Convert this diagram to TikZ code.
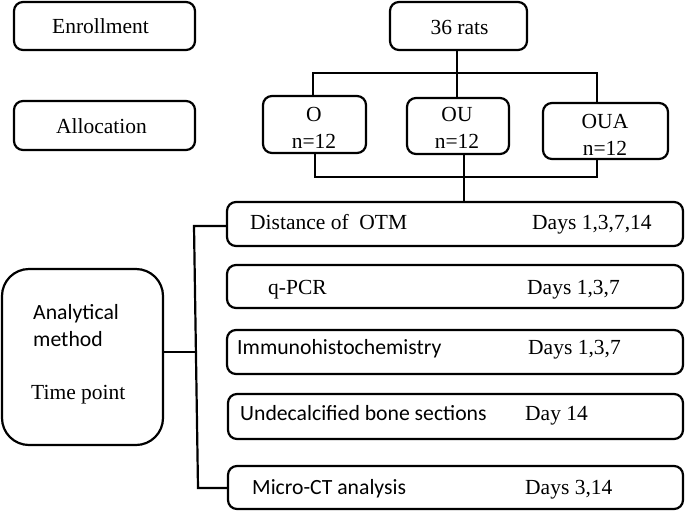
\documentclass[tikz,border=0pt]{standalone}
\usepackage{fontspec}
\setmainfont{Liberation Serif}
\newfontfamily\carl{Carlito}
\begin{document}
\begin{tikzpicture}[x=1pt,y=-1pt,
  box/.style={draw, line width=2.2pt, rounded corners=9pt, inner sep=0pt},
  conn/.style={line width=2.2pt},
  lbl/.style={inner sep=0pt, font=\fontsize{21.5}{27}\selectfont},
  slbl/.style={inner sep=0pt, font=\carl\fontsize{21.7}{27}\selectfont}]
\useasboundingbox (0,0) rectangle (685,512);
% boxes
\node[box, minimum width=181pt, minimum height=48pt] (enr) at (104.5,26) {};
\node[box, minimum width=181pt, minimum height=49pt] (alc) at (104.5,125.5) {};
\node[box, minimum width=137pt, minimum height=48pt] (rats) at (458.5,26) {};
\node[box, minimum width=103pt, minimum height=57pt] (O) at (314.5,124.5) {};
\node[box, minimum width=102pt, minimum height=56pt] (OU) at (458,126) {};
\node[box, minimum width=125pt, minimum height=56pt] (OUA) at (605.5,131) {};
\node[box, rounded corners=27pt, minimum width=161pt, minimum height=176pt] (anal) at (82.5,357) {};
\node[box, minimum width=456pt, minimum height=44pt] (dist) at (455,224) {};
\node[box, minimum width=456pt, minimum height=43pt] (pcr) at (455,286.5) {};
\node[box, minimum width=456pt, minimum height=44pt] (imm) at (455,352) {};
\node[box, minimum width=455pt, minimum height=45pt] (und) at (455.5,416.5) {};
\node[box, minimum width=455pt, minimum height=43pt] (mic) at (455.5,487.5) {};
% texts
\node[lbl] (tenr) at (100.5,26) {Enrollment};
\node[lbl] (talc) at (101.5,126) {Allocation};
\node[lbl] (trats) at (459.5,27) {36 rats};
\node[lbl, align=center] (tO) at (314,128) {O\\n=12};
\node[lbl, align=center] (tOU) at (457,128) {OU\\n=12};
\node[lbl, align=center] (tOUA) at (605,135) {OUA\\n=12};
\node[lbl, anchor=mid west] (tdist) at (250,227) {Distance of~ OTM};
\node[lbl, anchor=mid west] (ddist) at (532,227) {Days 1,3,7,14};
\node[lbl, anchor=mid west] (tpcr) at (268,292) {q-PCR};
\node[lbl, anchor=mid west] (dpcr) at (527,292) {Days 1,3,7};
\node[slbl, anchor=mid west] (timm) at (237,352) {Immunohistochemistry};
\node[lbl, anchor=mid west] (dimm) at (528,352) {Days 1,3,7};
\node[slbl, anchor=mid west] (tund) at (240,418) {Undecalcified bone sections};
\node[lbl, anchor=mid west] (dund) at (525,418) {Day 14};
\node[slbl, anchor=mid west] (tmic) at (252,492) {Micro-CT analysis};
\node[lbl, anchor=mid west] (dmic) at (525,492) {Days 3,14};
\node[slbl, anchor=mid west] (tan1) at (33,317) {Analytical};
\node[slbl, anchor=mid west] (tan2) at (33,344) {method};
\node[lbl, anchor=mid west] (tan3) at (31,397) {Time point};
% connectors
\coordinate (hl) at (313,73);
\coordinate (hr) at (597,73);
\coordinate (hm) at (457,73);
\draw[conn] (hm |- rats.south) -- (hm);
\draw[conn] (O.north -| hl) -- (hl) -- (hr) -- (hr |- OUA.north);
\draw[conn] (hm |- OU.north) -- (hm);
\coordinate (bl) at (315,177);
\coordinate (br) at (597,177);
\coordinate (bm) at (464,177);
\draw[conn] (O.south -| bl) -- (bl) -- (br) -- (br |- OUA.south);
\draw[conn] (bm |- OU.south) -- (bm |- dist.north);
\coordinate (bt) at (194,226);
\coordinate (bb) at (198,488);
\coordinate (bj) at (196,352);
\draw[conn] (dist.west |- bt) -- (bt) -- (bb) -- (mic.west |- bb);
\draw[conn] (anal.east |- bj) -- (bj);
\end{tikzpicture}
\end{document}
